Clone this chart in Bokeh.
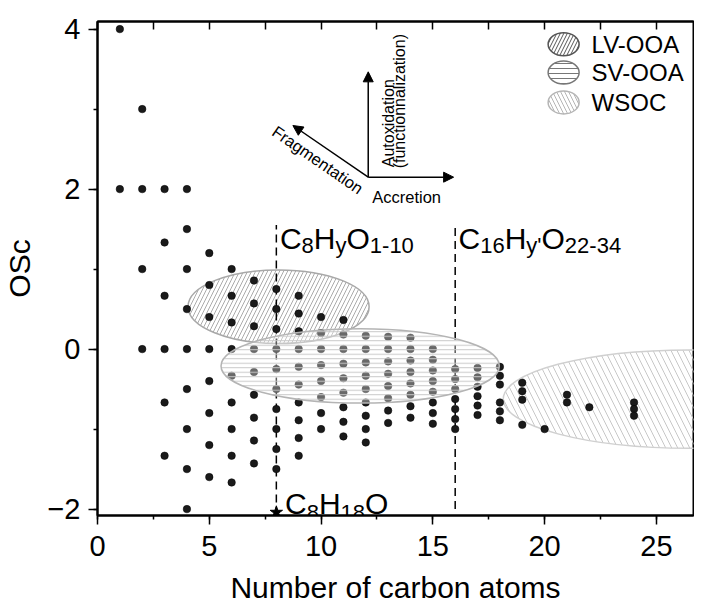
import numpy as np
from bokeh.plotting import figure
from bokeh.models import (Label, Arrow, NormalHead, LinearAxis, SingleIntervalTicker,
                          CustomJSTickFormatter)
from bokeh.embed import file_html
from bokeh.resources import INLINE

FONT = "Liberation Sans"

# ---------------- data ----------------
carbon_numbers = [1, 2, 3, 4, 5, 6, 7, 8, 9, 10, 11, 12, 13, 14, 15, 16, 17, 18, 19, 20, 21, 22, 24]
osc_c1 = [4.0, 2.0]
osc_c2 = [3.0, 2.0, 1.0, 0.0]
osc_c3 = [2.0, 1.333, 0.667, 0.0, -0.667, -1.333]
osc_c4 = [2.0, 1.5, 1.0, 0.5, 0.0, -0.5, -1.0, -1.5, -2.0]
osc_c5 = [1.2, 0.8, 0.4, 0.0, -0.4, -0.8, -1.2, -1.6]
osc_c6 = [1.0, 0.667, 0.333, 0.0, -0.333, -0.667, -1.0, -1.333, -1.667]
osc_c7 = [0.857, 0.571, 0.286, 0.0, -0.286, -0.571, -0.857, -1.143, -1.429]
osc_c8 = [0.75, 0.5, 0.25, 0.0, -0.25, -0.5, -0.75, -1.0, -1.25, -1.5]
osc_c9 = [0.667, 0.444, 0.222, 0.0, -0.222, -0.444, -0.667, -0.889, -1.111, -1.333]
osc_c10 = [0.4, 0.2, 0.0, -0.2, -0.4, -0.6, -0.8, -1.0]
osc_c11 = [0.364, 0.182, 0.0, -0.182, -0.364, -0.545, -0.727, -0.909, -1.091]
osc_c12 = [0.167, 0.0, -0.167, -0.333, -0.5, -0.667, -0.833, -1.0, -1.167]
osc_c13 = [0.154, 0.0, -0.154, -0.308, -0.462, -0.615, -0.769, -0.923]
osc_c14 = [0.143, 0.0, -0.143, -0.286, -0.429, -0.571, -0.714, -0.857]
osc_c15 = [0.0, -0.133, -0.267, -0.4, -0.533, -0.667, -0.8, -0.933]
osc_c16 = [-0.25, -0.375, -0.5, -0.625, -0.75, -0.875, -1.0]
osc_c17 = [-0.235, -0.353, -0.471, -0.588, -0.706, -0.824]
osc_c18 = [-0.222, -0.333, -0.444, -0.667, -0.778, -0.889]
osc_c19 = [-0.421, -0.526, -0.632, -0.947]
osc_c20 = [-1.0]
osc_c21 = [-0.571, -0.667]
osc_c22 = [-0.727]
osc_c24 = [-0.667, -0.75, -0.833]
osc_columns = [osc_c1, osc_c2, osc_c3, osc_c4, osc_c5, osc_c6, osc_c7, osc_c8, osc_c9,
               osc_c10, osc_c11, osc_c12, osc_c13, osc_c14, osc_c15, osc_c16, osc_c17,
               osc_c18, osc_c19, osc_c20, osc_c21, osc_c22, osc_c24]

# reference compound C8H18O
ref_c = [8]
ref_osc = [-2.04]

# factor ellipses (centre, width, height in data units)
ellipse_names = ["LV-OOA", "SV-OOA", "WSOC"]
ellipse_cx = [8.1, 11.75, 26.5]
ellipse_cy = [0.53, -0.21, -0.625]
ellipse_w = [8.1, 12.45, 16.7]
ellipse_h = [0.92, 0.93, 1.23]

# dashed guides
guide_c = [8, 16]
guide_top = [1.55, 1.55]
guide_bottom = [-2.08, -2.0]

x_ticks_interval = 5
y_ticks_interval = 2

# ---------------- build ----------------
xs, ys = [], []
for c, vals in zip(carbon_numbers, osc_columns):
    xs += [c] * len(vals)
    ys += vals

p = figure(width=694, height=606, x_range=(0, 26.66), y_range=(-2.08, 4.095),
           output_backend="svg", toolbar_location=None,
           min_border_left=88, min_border_right=1, min_border_top=21, min_border_bottom=87)
p.background_fill_color = "white"
p.border_fill_color = "white"
p.grid.visible = False
p.outline_line_color = "black"
p.outline_line_width = 2

# ellipses under points
lv = 0
p.ellipse(x=[ellipse_cx[lv]], y=[ellipse_cy[lv]], width=[ellipse_w[lv]], height=[ellipse_h[lv]],
          fill_color=None, line_color="#a8a8a8", line_width=1.5,
          hatch_pattern="/", hatch_color="#ababab", hatch_scale=8, hatch_weight=1)
ws = 2
p.ellipse(x=[ellipse_cx[ws]], y=[ellipse_cy[ws]], width=[ellipse_w[ws]], height=[ellipse_h[ws]],
          fill_color=None, line_color="#d0d0d0", line_width=1.5,
          hatch_pattern="\\", hatch_color="#c8c8c8", hatch_scale=12, hatch_weight=1)

# dashed guide lines
p.segment(x0=guide_c, y0=guide_bottom, x1=guide_c, y1=guide_top,
          line_color="black", line_width=1.5, line_dash="8 5")

# points
p.scatter(xs, ys, size=7.5, fill_color="#1a1a1a", line_color="#000000", line_width=0.5)
p.scatter(ref_c, ref_osc, marker="star", size=13, fill_color="black", line_color="black")

# SV-OOA ellipse over points
sv = 1
p.ellipse(x=[ellipse_cx[sv]], y=[ellipse_cy[sv]], width=[ellipse_w[sv]], height=[ellipse_h[sv]],
          fill_color="white", fill_alpha=0.35, line_color="#b4b4b4", line_width=1.5,
          hatch_pattern="-", hatch_color="#c8c8c8", hatch_scale=4.5, hatch_weight=1)

# ---------------- axes ----------------
for ax in (p.xaxis[0], p.yaxis[0]):
    ax.axis_line_width = 2
    ax.major_tick_line_width = 1.5
    ax.minor_tick_line_width = 1.5
    ax.major_tick_in = 0
    ax.minor_tick_in = 0
    ax.major_tick_out = 9
    ax.minor_tick_out = 4
    ax.major_label_text_font = FONT
    ax.major_label_text_font_size = "29px"
    ax.major_label_text_color = "black"
    ax.axis_label_text_font = FONT
    ax.axis_label_text_font_size = "30px"
    ax.axis_label_text_font_style = "normal"
    ax.axis_label_text_color = "black"

p.xaxis.ticker = SingleIntervalTicker(interval=x_ticks_interval, num_minor_ticks=2)
p.yaxis.ticker = SingleIntervalTicker(interval=y_ticks_interval, num_minor_ticks=2)
p.xaxis.axis_label = "Number of carbon atoms"
p.yaxis.axis_label = "OSc"
p.xaxis.major_label_standoff = 11
p.xaxis.axis_label_standoff = 12
p.yaxis.major_label_standoff = 8
p.yaxis.axis_label_standoff = 8

top = LinearAxis(ticker=SingleIntervalTicker(interval=2.5, num_minor_ticks=0),
                 formatter=CustomJSTickFormatter(code="return ''"),
                 major_tick_in=8, major_tick_out=0, major_tick_line_width=1.5,
                 minor_tick_line_color=None, axis_line_width=2,
                 major_label_standoff=0, major_label_text_font_size="1px")
p.add_layout(top, "above")

# ---------------- annotations ----------------
def label(x, y, text, size, angle=0.0, xo=0, yo=0, baseline="alphabetic", align="left"):
    p.add_layout(Label(x=x, y=y, text=text, x_offset=xo, y_offset=yo, angle=angle,
                       text_font=FONT, text_font_size=f"{size}px", text_color="black",
                       text_baseline=baseline, text_align=align))

WID = {'C': 0.722, 'H': 0.722, 'O': 0.778, 'y': 0.5, "'": 0.191, '-': 0.333}
def wid(s, size):
    return sum(WID.get(ch, 0.556) for ch in s) * size

def formula(x, y, parts, big=30, small=22, drop=7):
    off = 0.0
    for txt, sub in parts:
        sz = small if sub else big
        label(x, y, txt, sz, xo=off, yo=(-drop if sub else 0))
        off += wid(txt, sz)

formula(8.16, 1.387, [("C", 0), ("8", 1), ("H", 0), ("y", 1), ("O", 0), ("1-10", 1)])
formula(16.15, 1.387, [("C", 0), ("16", 1), ("H", 0), ("y'", 1), ("O", 0), ("22-34", 1)])
formula(8.39, -1.925, [("C", 0), ("8", 1), ("H", 0), ("18", 1), ("O", 0)], drop=9)

# process arrows
ox, oy = 12.11, 2.149
head = dict(size=10, fill_color="black", line_color="black")
p.add_layout(Arrow(x_start=ox, y_start=oy, x_end=ox, y_end=3.466, line_width=1.5,
                   end=NormalHead(**head)))
p.add_layout(Arrow(x_start=ox, y_start=oy, x_end=15.93, y_end=oy, line_width=1.5,
                   end=NormalHead(**head)))
p.add_layout(Arrow(x_start=ox, y_start=oy, x_end=8.74, y_end=2.795, line_width=1.5,
                   end=NormalHead(**head)))
label(12.29, 1.905, "Accretion", 16.5)
label(13.0, 2.273, "Autoxidation", 16, angle=np.pi / 2)
label(13.49, 2.26, "(functionnalization)", 16, angle=np.pi / 2)
label(7.9, 2.745, "Fragmentation", 16.5, angle=-0.606)

# legend (manual)
leg_x = 20.85
leg_y = [3.81, 3.457, 3.084]
leg_hatch = ["/", "-", "\\"]
leg_line = ["#555555", "#777777", "#b5b5b5"]
leg_hcol = ["#555555", "#777777", "#b5b5b5"]
leg_scale = [7, 5, 8]
for yy, name, hp, lc, hc, hs in zip(leg_y, ellipse_names, leg_hatch, leg_line, leg_hcol, leg_scale):
    p.ellipse(x=[leg_x], y=[yy], width=31, height=23, width_units="screen", height_units="screen",
              fill_color=None, line_color=lc, line_width=1.5,
              hatch_pattern=hp, hatch_color=hc, hatch_scale=hs, hatch_weight=1)
    label(leg_x, yy, name, 24, xo=28, baseline="middle")

open("out.html", "w").write(file_html(p, INLINE))
